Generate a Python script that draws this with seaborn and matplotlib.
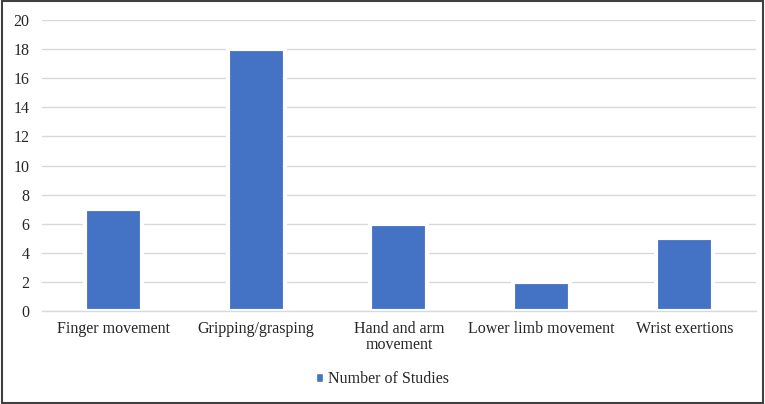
import pandas as pd
import seaborn as sns
from matplotlib import pyplot as plt
from matplotlib.patches import Rectangle
from matplotlib.ticker import FixedLocator

categories = ["Finger movement", "Gripping/grasping", "Hand and arm\nmovement",
              "Lower limb movement", "Wrist exertions"]
studies = [7, 18, 6, 2, 5]
series_name = "Number of Studies"

data = pd.DataFrame({"Category": categories, "Count": studies, "Series": series_name})

sns.set_style("white")
plt.rcParams["font.family"] = ["Liberation Serif", "DejaVu Serif"]

fig = plt.figure(figsize=(7.65, 4.04), dpi=100)
ax = fig.add_axes([0.055, 0.23, 0.933, 0.7205])

sns.barplot(data, x="Category", y="Count", hue="Series", palette=["#4472C4"],
            saturation=1, width=0.40, edgecolor="white", linewidth=3,
            ax=ax, legend=False)

ax.set_ylim(0, 20)
ax.set_yticks(range(0, 21, 2))
ax.set_xlim(-0.5, len(categories) - 0.5)
ax.grid(axis="y", color="#d9d9d9", linewidth=1)
ax.set_axisbelow(True)
for side in ["top", "right", "left"]:
    ax.spines[side].set_visible(False)
ax.spines["bottom"].set_color("#d9d9d9")
ax.spines["bottom"].set_linewidth(1)
ax.spines["bottom"].set_zorder(5)

ax.set_xlabel("")
ax.set_ylabel("")
ax.tick_params(axis="x", which="major", length=0, labelsize=11.5, pad=7)
ax.tick_params(axis="y", length=0, labelsize=11.5, pad=9)
for lbl in ax.get_xticklabels():
    lbl.set_linespacing(1.05)
ax.xaxis.set_minor_locator(FixedLocator([i - 0.5 for i in range(len(categories) + 1)]))
ax.tick_params(axis="x", which="minor", length=4, color="#d9d9d9", width=1, direction="out")

handle = Rectangle((0, 0), 1, 1, facecolor="#4472C4")
fig.legend([handle], [series_name], loc="center", bbox_to_anchor=(0.5, 0.062),
           frameon=False, fontsize=11.5, handlelength=0.45, handleheight=0.45,
           handletextpad=0.3)

fig.patches.append(Rectangle((0.002, 0.003), 0.996, 0.994, transform=fig.transFigure,
                             fill=False, edgecolor="#404040", linewidth=1.5))

fig.savefig("out.png", dpi=100)
